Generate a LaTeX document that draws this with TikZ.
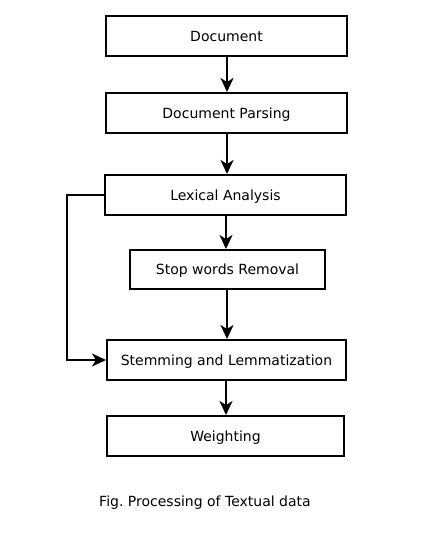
\documentclass[tikz,border=0pt]{standalone}
\usepackage{fontspec}
\setmainfont{DejaVu Sans}
\usetikzlibrary{arrows.meta}
\begin{document}
\frenchspacing
\begin{tikzpicture}[x=1pt,y=-1pt,
  box/.style={draw,line width=2pt,inner sep=0pt,text depth=0pt,font=\fontsize{14}{16}\selectfont},
  conn/.style={line width=2pt,-{Stealth[length=14pt,width=13pt,inset=4pt]}}]
\useasboundingbox (0,0) rectangle (443,536);
\node[box,minimum width=241pt,minimum height=40pt] (doc) at (226.5,36) {Document};
\node[box,minimum width=241pt,minimum height=40pt] (parse) at (226.5,113) {Document Parsing};
\node[box,minimum width=241pt,minimum height=40pt] (lex) at (225.5,195) {Lexical Analysis};
\node[box,minimum width=195pt,minimum height=39pt] (stop) at (227.5,269.5) {Stop words Removal};
\node[box,minimum width=239pt,minimum height=40pt] (stem) at (226.5,360) {Stemming and Lemmatization};
\node[box,minimum width=237pt,minimum height=40pt] (weight) at (225.5,436) {Weighting};
\node[font=\fontsize{14}{16}\selectfont,text depth=0pt] (cap) at (205,501) {Fig. Processing of Textual data};
\coordinate (c1) at (67,195);
\coordinate (c2) at (67,360);
\draw[conn] (doc.south -| 227,0) -- (parse.north -| 227,0);
\draw[conn] (parse.south -| 227,0) -- (lex.north -| 227,0);
\draw[conn] (lex.south -| 226,0) -- (stop.north -| 226,0);
\draw[conn] (stop.south -| 227,0) -- (stem.north -| 227,0);
\draw[conn] (stem.south -| 226,0) -- (weight.north -| 226,0);
\draw[conn] (lex.west) -- (c1) -- (c2) -- (stem.west);
\end{tikzpicture}
\end{document}
